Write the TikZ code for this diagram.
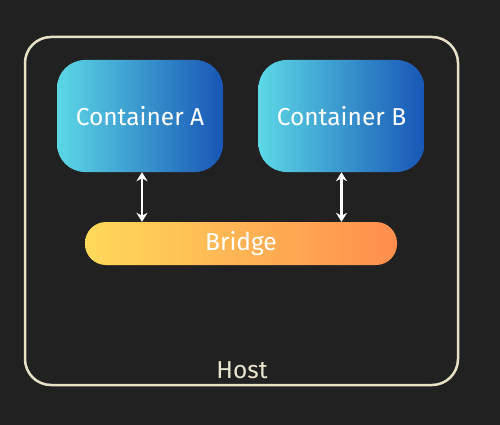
\documentclass[tikz,border=0pt]{standalone}
\usepackage{fontspec}
\setmainfont{Fira Sans}
\usetikzlibrary{arrows.meta}
\usetikzlibrary{positioning}
\definecolor{bgdark}{HTML}{222121}
\definecolor{hostline}{HTML}{E6E2C6}
\definecolor{contleft}{HTML}{5CD8E6}
\definecolor{contright}{HTML}{1856B6}
\definecolor{brleft}{HTML}{FFD95A}
\definecolor{brright}{HTML}{FF8E4E}
\tikzset{
	boxnode/.style = {align=center, inner sep=0pt, text centered,
		font=\fontsize{24.5}{28}\selectfont, white},
	cont_n/.style = {boxnode, rectangle, rounded corners=28pt,
		left color=contleft, right color=contright,
		minimum width=166pt, minimum height=112pt},% container
	bridge_n/.style = {boxnode, rectangle, rounded corners=21pt,
		left color=brleft, right color=brright,
		minimum width=312pt, minimum height=43pt},% bridge
	host_n/.style = {rectangle, draw=hostline, line width=2.5pt,
		rounded corners=26pt, minimum width=433pt, minimum height=348pt},% host
	link/.style = {white, line width=2.4pt, {Stealth[length=9pt,width=11pt]}-{Stealth[length=9pt,width=11pt]}}
}
\begin{document}
\begin{tikzpicture}[x=1pt,y=-1pt]
	% background
	\fill[bgdark] (0,0) rectangle (500,425);
	\useasboundingbox (0,0) rectangle (500,425);
	\node [host_n] (host) at (241.5,211) {};
	\node [boxnode, text=hostline!85!white] (hostlbl) at (242,370) {Host};
	\node [cont_n] (ca) at (140,116) {Container A};
	\node [cont_n] (cb) at (341.5,116) {Container B};
	\node [bridge_n] (br) at (241,243.5) {Bridge};
	% links
	\draw [link] ([xshift=2pt]ca.south) -- ([xshift=2pt]ca.south |- br.north);
	\draw [link] (cb.south) -- (cb.south |- br.north);
\end{tikzpicture}
\end{document}
